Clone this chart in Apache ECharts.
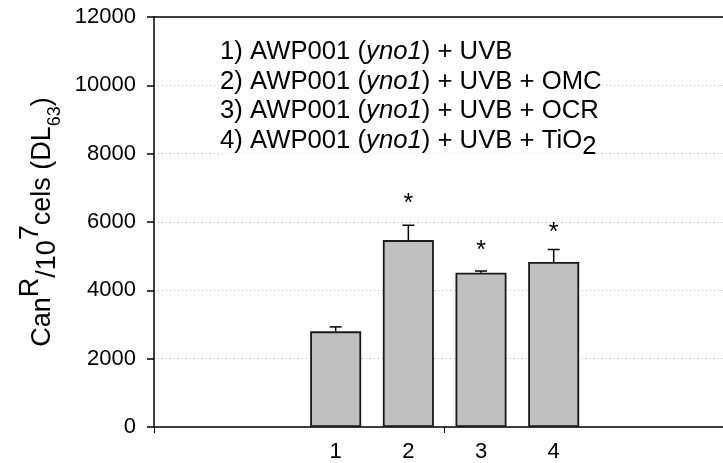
<!DOCTYPE html>
<html>
<head>
<meta charset="utf-8">
<script src="https://cdn.jsdelivr.net/npm/echarts@6/dist/echarts.min.js"></script>
<style>
html, body { margin: 0; padding: 0; background: #fff; }
#main { width: 723px; height: 463px; }
</style>
</head>
<body>
<div id="main"></div>
<script>
// bar positions and labels
var positions = [1, 2, 3, 4];
var tickLabels = ['1', '2', '3', '4'];
// mean values and top of error bars
var means = [2800, 5470, 4515, 4830];
var errTops = [2930, 5905, 4565, 5195];
// significance stars (height of the star)
var starLevels = [null, 6660, 5290, 5810];
var legendLines = [
    '{n|1) AWP001 (}{i|yno1}{n|) + UVB}',
    '{n|2) AWP001 (}{i|yno1}{n|) + UVB + OMC}',
    '{n|3) AWP001 (}{i|yno1}{n|) + UVB + OCR}',
    '{n|4) AWP001 (}{i|yno1}{n|) + UVB + TiO}{sub|2}'
];

var FONT = '"Liberation Sans", Arial, sans-serif';
var myChart = echarts.init(document.getElementById('main'));

var barData = [], errData = [], starData = [];
for (var i = 0; i < positions.length; i++) {
    barData.push([positions[i], means[i]]);
    errData.push([positions[i], means[i], errTops[i]]);
    if (starLevels[i] != null) starData.push([positions[i], starLevels[i]]);
}

var legendRich = {
    n: { fontSize: 25.7, fontFamily: FONT, fill: '#000', lineHeight: 26, verticalAlign: 'top' },
    i: { fontSize: 25.7, fontFamily: FONT, fontStyle: 'italic', fill: '#000', lineHeight: 26, verticalAlign: 'top' },
    sub: { fontSize: 25.7, fontFamily: FONT, fill: '#000', lineHeight: 26, verticalAlign: 'top', padding: [6, 0, 0, 0] }
};
var legendItems = [];
for (var k = 0; k < legendLines.length; k++) {
    legendItems.push({
        type: 'text',
        x: 220,
        y: 39 + k * 29.5,
        z: 10,
        style: { text: legendLines[k], rich: legendRich, fill: '#000', verticalAlign: 'top', backgroundColor: '#fff' }
    });
}

option = {
    animation: false,
    grid: {
        left: 154,
        right: 0,
        top: 17,
        bottom: 35
    },
    xAxis: [
        {
            type: 'value',
            min: -1.5,
            max: 6.33,
            interval: 4,
            axisLine: { onZero: false, lineStyle: { color: '#000', width: 1.5 } },
            axisTick: { show: true, length: 6, customValues: [-1.5, 2.5], lineStyle: { color: '#000', width: 1 } },
            axisLabel: {
                customValues: positions,
                formatter: function (v) { return tickLabels[positions.indexOf(v)]; },
                fontSize: 22, fontFamily: FONT, color: '#000', margin: 14
            },
            splitLine: { show: false }
        },
        {
            type: 'value',
            position: 'top',
            min: -1.5,
            max: 6.33,
            axisLine: { show: true, onZero: false, lineStyle: { color: '#000', width: 1.5 } },
            axisTick: { show: false },
            axisLabel: { show: false },
            splitLine: { show: false }
        }
    ],
    yAxis: {
        type: 'value',
        min: 0,
        max: 12000,
        interval: 2000,
        name: '{b|Can}{sup|R}{sub|/10}{sup|7}{b|cels (DL}{s2|63}{b|)}',
        nameLocation: 'middle',
        nameGap: 96,
        nameTextStyle: {
            rich: {
                b: { fontSize: 27, fontFamily: FONT, color: '#000', lineHeight: 27, verticalAlign: 'top', padding: [12, 0, 0, 0] },
                sup: { fontSize: 27, fontFamily: FONT, color: '#000', lineHeight: 27, verticalAlign: 'top' },
                sub: { fontSize: 27, fontFamily: FONT, color: '#000', lineHeight: 27, verticalAlign: 'top', padding: [17, 0, 0, 0] },
                s2: { fontSize: 18, fontFamily: FONT, color: '#000', lineHeight: 18, verticalAlign: 'top', padding: [29, 0, 0, 0] }
            }
        },
        axisLine: { show: true, onZero: false, lineStyle: { color: '#000', width: 1.5 } },
        axisTick: { show: true, length: 7, lineStyle: { color: '#000', width: 1.5 } },
        axisLabel: {
            fontSize: 22, fontFamily: FONT, color: '#000', margin: 18,
            formatter: function (v) { return String(v); }
        },
        splitLine: { show: true, lineStyle: { type: [1, 3], color: '#bdbdbd', width: 1 } }
    },
    series: [
        {
            type: 'bar',
            data: barData,
            barWidth: 51,
            itemStyle: { color: '#c0c0c0', borderColor: '#1a1a1a', borderWidth: 1.8 },
            z: 3
        },
        {
            type: 'custom',
            data: errData,
            z: 4,
            renderItem: function (params, api) {
                var x = api.value(0);
                var p0 = api.coord([x, api.value(1)]);
                var p1 = api.coord([x, api.value(2)]);
                var cap = 6;
                return {
                    type: 'group',
                    children: [
                        { type: 'line', shape: { x1: p0[0], y1: p0[1], x2: p1[0], y2: p1[1] }, style: { stroke: '#000', lineWidth: 1.5 } },
                        { type: 'line', shape: { x1: p1[0] - cap, y1: p1[1], x2: p1[0] + cap, y2: p1[1] }, style: { stroke: '#000', lineWidth: 1.5 } }
                    ]
                };
            }
        },
        {
            type: 'custom',
            data: starData,
            z: 4,
            renderItem: function (params, api) {
                var p = api.coord([api.value(0), api.value(1)]);
                return {
                    type: 'text',
                    x: p[0],
                    y: p[1] + 5,
                    style: { text: '*', fontSize: 25, fontFamily: FONT, fill: '#000', align: 'center', verticalAlign: 'middle' }
                };
            }
        }
    ],
    graphic: legendItems
};

myChart.setOption(option);
</script>
</body>
</html>
